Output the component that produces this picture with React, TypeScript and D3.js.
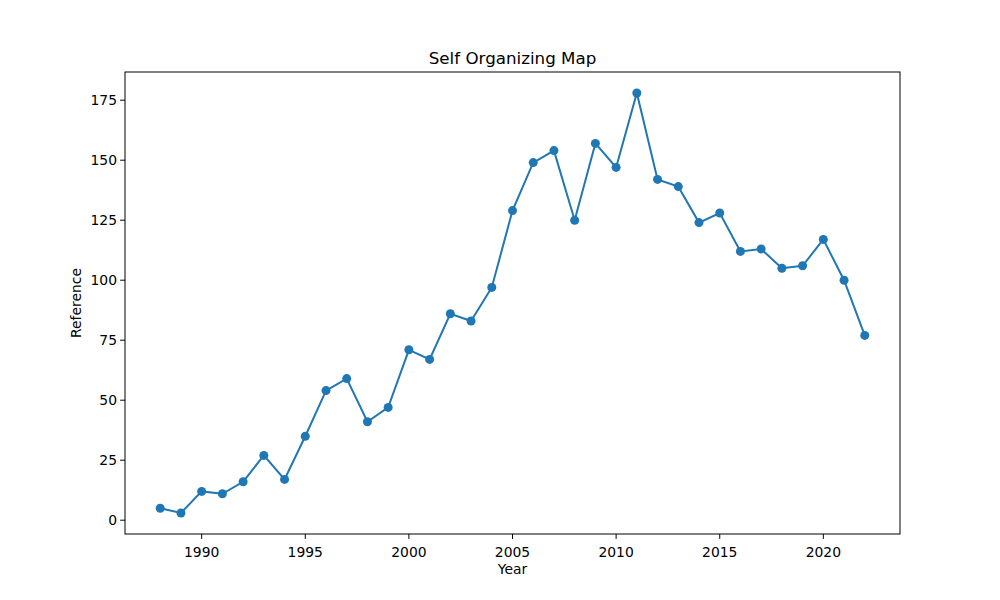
import React from "react";
import * as d3 from "d3";

const years = [1988,1989,1990,1991,1992,1993,1994,1995,1996,1997,1998,1999,2000,2001,2002,2003,2004,2005,2006,2007,2008,2009,2010,2011,2012,2013,2014,2015,2016,2017,2018,2019,2020,2021,2022];
const refs = [5,3,12,11,16,27,17,35,54,59,41,47,71,67,86,83,97,129,149,154,125,157,147,178,142,139,124,128,112,113,105,106,117,100,77];
const xTicks = [1990,1995,2000,2005,2010,2015,2020];
const yTicks = [0,25,50,75,100,125,150,175];

const W = 1000, H = 600;
const L = 125, R = 900, T = 72, B = 534;
const color = "#1f77b4";
const font = "DejaVu Sans, sans-serif";

export default function App() {
  const xMin = d3.min(years)!, xMax = d3.max(years)!;
  const yMin = d3.min(refs)!, yMax = d3.max(refs)!;
  const xm = (xMax - xMin) * 0.05, ym = (yMax - yMin) * 0.05;
  const x = d3.scaleLinear().domain([xMin - xm, xMax + xm]).range([L, R]);
  const y = d3.scaleLinear().domain([yMin - ym, yMax + ym]).range([B, T]);
  const pts = years.map((yr, i) => [yr, refs[i]] as [number, number]);
  const line = d3.line<[number, number]>().x(d => x(d[0])).y(d => y(d[1]));
  return (
    <svg width={W} height={H} style={{ position: "absolute", left: 0, top: 0 }}>
      <rect width={W} height={H} fill="white" />
      <path d={line(pts)!} fill="none" stroke={color} strokeWidth={2} />
      {pts.map((d, i) => (
        <circle key={i} cx={x(d[0])} cy={y(d[1])} r={4.5} fill={color} />
      ))}
      <rect x={L} y={T} width={R - L} height={B - T} fill="none" stroke="black" strokeWidth={1} />
      {xTicks.map(t => (
        <g key={t} transform={`translate(${x(t)},${B})`}>
          <line y2={4.9} stroke="black" />
          <text y={19} textAnchor="middle" fontFamily={font} fontSize={13.9} dominantBaseline="middle">{t}</text>
        </g>
      ))}
      {yTicks.map(t => (
        <g key={t} transform={`translate(${L},${y(t)})`}>
          <line x2={-4.9} stroke="black" />
          <text x={-8} textAnchor="end" fontFamily={font} fontSize={13.9} dominantBaseline="central">{t}</text>
        </g>
      ))}
      <text x={(L + R) / 2} y={574} textAnchor="middle" fontFamily={font} fontSize={13.9}>Year</text>
      <text transform={`translate(81,${(T + B) / 2}) rotate(-90)`} textAnchor="middle" fontFamily={font} fontSize={13.9}>Reference</text>
      <text x={(L + R) / 2} y={64} textAnchor="middle" fontFamily={font} fontSize={16.7}>Self Organizing Map</text>
    </svg>
  );
}
